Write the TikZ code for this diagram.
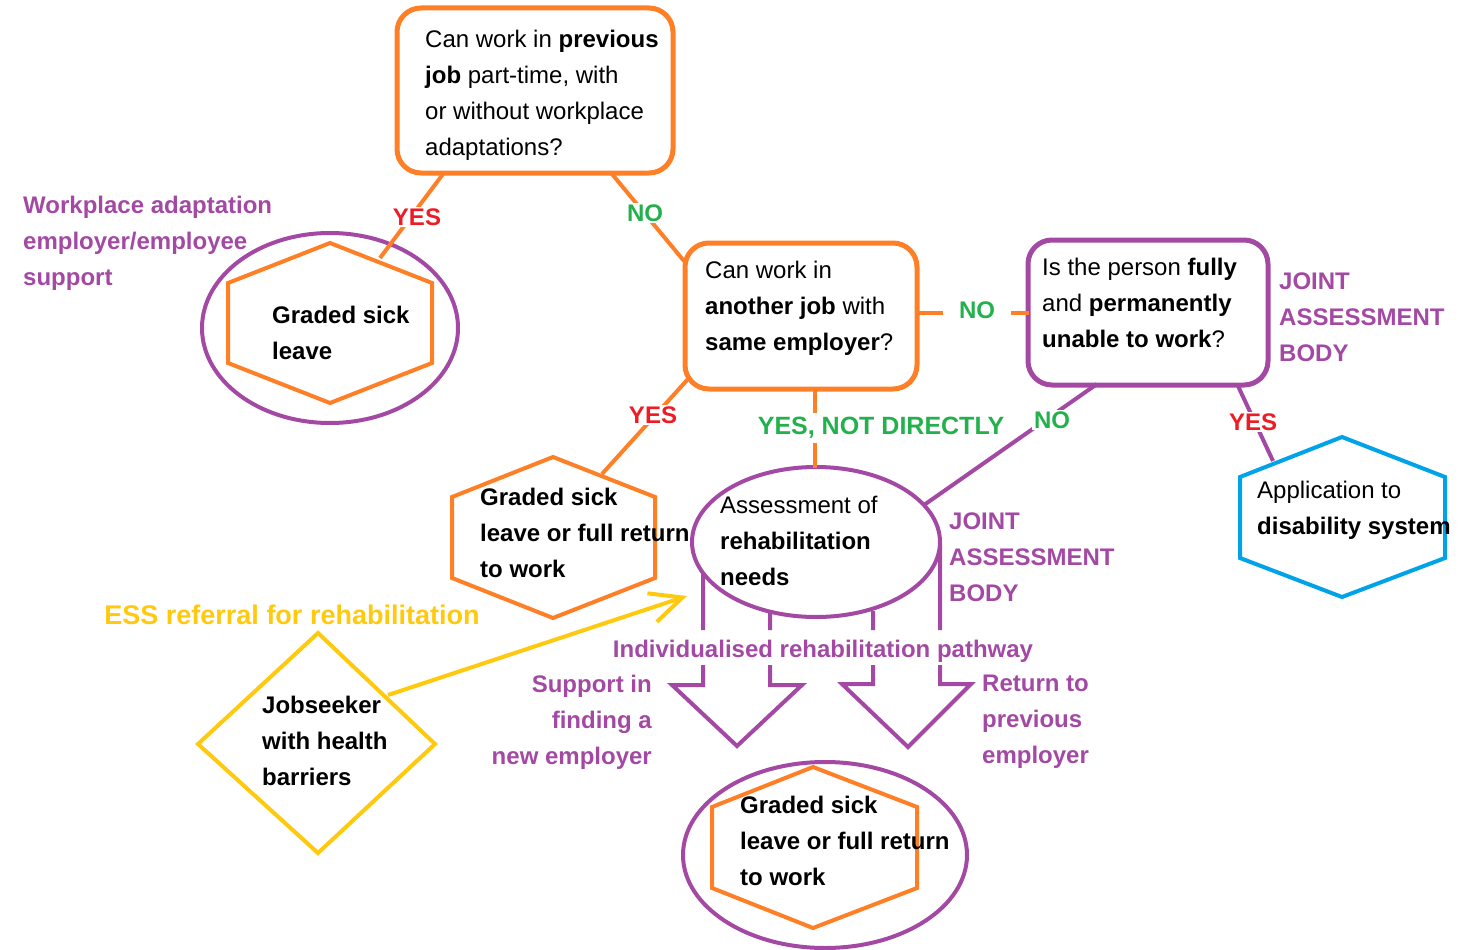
\documentclass[tikz,border=0pt]{standalone}
\usepackage{fontspec}
\setmainfont{Liberation Sans}
\usetikzlibrary{shapes.geometric,arrows.meta}
\definecolor{cOr}{HTML}{FF7F27}
\definecolor{cPu}{HTML}{A349A4}
\definecolor{cGr}{HTML}{22B14C}
\definecolor{cRe}{HTML}{ED1C24}
\definecolor{cYe}{HTML}{FFC90E}
\definecolor{cBl}{HTML}{00A2E8}
\begin{document}
\begin{tikzpicture}[x=1pt,y=-1pt,
  txt/.style={anchor=north west, align=left, inner sep=0pt, yshift=17.5pt,
    font=\fontsize{24}{36}\selectfont, execute at begin node=\strut},
  txtr/.style={txt, anchor=north east, align=right},
  btxt/.style={txt, font=\bfseries\fontsize{24}{36}\selectfont},
  plbl/.style={btxt, text=cPu},
  plblr/.style={txtr, font=\bfseries\fontsize{24}{36}\selectfont, text=cPu},
  qbox/.style={draw, line width=5pt, rounded corners=24pt, inner sep=0pt},
  conn/.style={line width=4pt},
  lbl/.style={fill=white, inner sep=2pt, font=\bfseries\fontsize{24}{28}\selectfont},
  yes/.style={lbl, text=cRe},
  no/.style={lbl, text=cGr},
  hexo/.style={draw=cOr, line width=4pt, line join=miter},
  ell/.style={draw=cPu, line width=4pt, ellipse, inner sep=0pt}
]
\useasboundingbox (0,0) rectangle (1460,950);

% ---------- question boxes ----------
\node[qbox, draw=cOr, minimum width=276pt, minimum height=165pt] (q1) at (535,90.5) {};
\node[txt] (q1t) at (425,47) {Can work in \textbf{previous}\\\textbf{job} part-time, with\\or without workplace\\adaptations?};

\node[qbox, draw=cOr, minimum width=232pt, minimum height=146pt] (q2) at (801,316) {};
\node[txt] (q2t) at (705,278) {Can work in\\\textbf{another job} with\\\textbf{same employer}?};

\node[qbox, draw=cPu, minimum width=240pt, minimum height=145pt] (q3) at (1148,312.5) {};
\node[txt] (q3t) at (1042,275) {Is the person \textbf{fully}\\and \textbf{permanently}\\\textbf{unable to work}?};

\node[plbl] (jab1) at (1279,290) {JOINT\\ASSESSMENT\\BODY};

% ---------- left: graded sick leave ----------
\node[ell, minimum width=256pt, minimum height=190pt] (e1) at (330,328) {};
\draw[hexo] (330,243) -- (432,283) -- (432,363) -- (330,403) -- (228,363) -- (228,283) -- cycle;
\node[btxt] (gsl) at (272,323) {Graded sick\\leave};
\node[plbl] (wpa) at (23,213) {Workplace adaptation\\employer/employee\\support};

% ---------- blue hexagon ----------
\draw[draw=cBl, line width=4pt] (1342,437) -- (1445,477) -- (1445,558) -- (1342,597) -- (1240,558) -- (1240,477) -- cycle;
\node[txt] (app) at (1257,498) {Application to\\\textbf{disability system}};

% ---------- middle hexagon ----------
\draw[hexo] (553,457) -- (655,497) -- (655,578) -- (553,618) -- (452,578) -- (452,497) -- cycle;
\node[btxt] (gsl2) at (480,505) {Graded sick\\leave or full return\\to work};

% ---------- pathway arrows ----------
\draw[draw=cPu, line width=4pt, line join=miter]
  (703,573) -- (703,630)
  (703,665) -- (703,685) -- (672,685) -- (737,746) -- (802,685) -- (770,685) -- (770,665)
  (770,630) -- (770,611)
  (873,611) -- (873,630)
  (873,665) -- (873,684) -- (842,684) -- (908,747) -- (971,684) -- (940,684) -- (940,665)
  (940,630) -- (940,543);

% ---------- assessment ellipse ----------
\node[ell, minimum width=248pt, minimum height=150pt] (e2) at (816,542) {};
\node[txt] (ass) at (720,513) {Assessment of\\\textbf{rehabilitation}\\\textbf{needs}};
\node[plbl] (jab2) at (949,530) {JOINT\\ASSESSMENT\\BODY};

\node[font=\bfseries\fontsize{24}{28}\selectfont, text=cPu, anchor=base, inner sep=0pt] (irp) at (823,657) {Individualised rehabilitation pathway};
\node[plblr] (sup) at (652,692) {Support in\\finding a\\new employer};
\node[plbl] (ret) at (982,692) {Return to\\previous\\employer};

% ---------- bottom ----------
\node[ell, minimum width=284pt, minimum height=186pt] (e3) at (825,855) {};
\draw[hexo] (813,767) -- (917,807) -- (917,888) -- (813,928) -- (712,888) -- (712,807) -- cycle;
\node[btxt] (gsl3) at (740,813) {Graded sick\\leave or full return\\to work};

% ---------- jobseeker ----------
\draw[draw=cYe, line width=4pt] (318,633) -- (435,744) -- (318,853) -- (198,744) -- cycle;
\node[btxt] (job) at (262,713) {Jobseeker\\with health\\barriers};
\node[font=\bfseries\fontsize{27}{30}\selectfont, text=cYe, anchor=base, inner sep=0pt] (ess) at (292,624) {ESS referral for rehabilitation};

% ---------- connectors ----------
\coordinate (a1) at (443,174); \coordinate (a2) at (380,258);
\coordinate (b1) at (612,174); \coordinate (b2) at (684,261);
\coordinate (c1) at (917,313); \coordinate (c2) at (1029,313);
\coordinate (d1) at (688,379); \coordinate (d2) at (602,474);
\coordinate (f1) at (815,389); \coordinate (f2) at (815,468);
\coordinate (g1) at (1097,384); \coordinate (g2) at (924,505);
\coordinate (h1) at (1238,386); \coordinate (h2) at (1273,461);
\coordinate (k1) at (388,695); \coordinate (k2) at (687,596);

\draw[conn, cOr] (a1) -- (a2);
\node[yes] (yes1) at (417,217) {YES};
\draw[conn, cOr] (b1) -- (b2);
\node[no] (no1) at (645,213) {NO};
\draw[conn, cOr] (c1) -- (c2);
\node[no, inner xsep=16pt] (no2) at (977,310) {NO};
\draw[conn, cOr] (d1) -- (d2);
\node[yes] (yes2) at (653,415) {YES};
\draw[conn, cOr] (f1) -- (f2);
\node[no, inner ysep=4pt, font=\bfseries\fontsize{25}{28}\selectfont] (ynd) at (881,428) {YES, NOT DIRECTLY};
\draw[conn, cPu] (g1) -- (g2);
\node[no] (no3) at (1052,420) {NO};
\draw[conn, cPu] (h1) -- (h2);
\node[yes] (yes3) at (1253,422) {YES};
\draw[conn, cYe, -{Straight Barb[length=32pt, width=30pt, line width=4pt]}] (k1) -- (k2);
\end{tikzpicture}
\end{document}
